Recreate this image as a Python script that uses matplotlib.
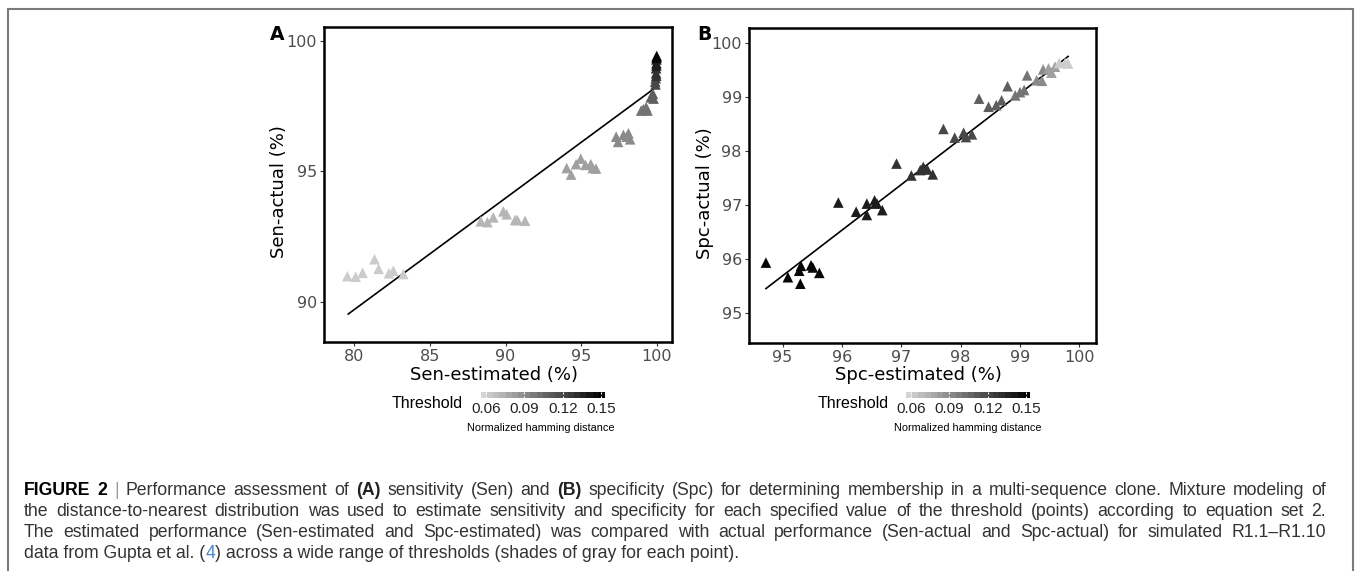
import numpy as np
import matplotlib
matplotlib.use("Agg")
import matplotlib.pyplot as plt
from matplotlib.colors import LinearSegmentedColormap, Normalize
from matplotlib.colorbar import ColorbarBase
from matplotlib.patches import Rectangle

# Panel A: sensitivity (estimated vs actual), threshold per point
sen_est = [79.54, 80.09, 80.55, 81.34, 81.61, 82.29, 82.58, 83.24,
           88.36, 88.80, 89.19, 89.85, 90.07, 90.63, 90.78, 91.29,
           94.04, 94.33, 94.66, 94.97, 95.28, 95.63, 95.76, 95.98,
           97.31, 97.44, 97.79, 98.01, 98.12, 98.23,
           98.96, 99.11, 99.29, 99.38,
           99.60, 99.74, 99.78,
           99.89, 99.93, 99.91,
           99.95, 99.95, 99.96,
           99.97, 99.97, 99.97,
           99.99, 99.98]
sen_act = [90.98, 90.96, 91.11, 91.63, 91.26, 91.09, 91.19, 91.06,
           93.08, 93.05, 93.23, 93.46, 93.35, 93.13, 93.13, 93.10,
           95.12, 94.87, 95.27, 95.48, 95.24, 95.27, 95.12, 95.10,
           96.32, 96.12, 96.39, 96.32, 96.45, 96.22,
           97.32, 97.37, 97.45, 97.32,
           97.83, 97.96, 97.78,
           98.43, 98.56, 98.32,
           98.75, 98.94, 98.66,
           99.13, 99.28, 99.05,
           99.41, 99.35]
sen_thr = [0.06] * 8 + [0.07] * 8 + [0.08] * 8 + [0.09] * 6 + [0.10] * 4 + \
          [0.11] * 3 + [0.12] * 3 + [0.13] * 3 + [0.14] * 3 + [0.15] * 2
sen_line_x = [79.6, 100.0]
sen_line_y = [89.53, 98.24]

# Panel B: specificity
spc_est = [94.72, 95.09, 95.28, 95.30, 95.31, 95.48, 95.51, 95.62,
           95.94, 96.24, 96.42, 96.42, 96.55, 96.59, 96.68,
           96.92, 97.17, 97.32, 97.37, 97.44, 97.53,
           97.71, 97.90, 98.05, 98.09, 98.19,
           98.31, 98.47, 98.60, 98.69, 98.79,
           98.92, 99.00, 99.07, 99.12,
           99.28, 99.37, 99.39,
           99.48, 99.53, 99.59,
           99.66, 99.76, 99.81]
spc_act = [95.94, 95.67, 95.79, 95.55, 95.88, 95.89, 95.85, 95.75,
           97.05, 96.88, 97.03, 96.82, 97.09, 97.03, 96.91,
           97.77, 97.55, 97.65, 97.71, 97.66, 97.57,
           98.41, 98.25, 98.34, 98.26, 98.31,
           98.97, 98.82, 98.85, 98.94, 99.20,
           99.03, 99.09, 99.13, 99.40,
           99.31, 99.30, 99.51,
           99.53, 99.45, 99.56,
           99.63, 99.63, 99.62]
spc_thr = [0.15] * 8 + [0.14] * 7 + [0.13] * 6 + [0.12] * 5 + [0.11] * 5 + \
          [0.10] * 4 + [0.09] * 3 + [0.08] * 3 + [0.06] * 3
spc_line_x = [94.72, 99.81]
spc_line_y = [95.46, 99.75]

cbar_ticks = [0.06, 0.09, 0.12, 0.15]

caption = [
    [("FIGURE 2", "bold", "black"), (" | ", "normal", "#999999"),
     ("Performance assessment of ", "normal", "#333333"), ("(A)", "bold", "#222222"),
     (" sensitivity (Sen) and ", "normal", "#333333"), ("(B)", "bold", "#222222"),
     (" specificity (Spc) for determining membership in a multi-sequence clone. Mixture modeling of",
      "normal", "#333333")],
    [("the distance-to-nearest distribution was used to estimate sensitivity and specificity for each "
      "specified value of the threshold (points) according to equation set 2.", "normal", "#333333")],
    [("The estimated performance (Sen-estimated and Spc-estimated) was compared with actual performance "
      "(Sen-actual and Spc-actual) for simulated R1.1\u2013R1.10", "normal", "#333333")],
    [("data from Gupta et al. (", "normal", "#333333"), ("4", "normal", "#4a86c8"),
     (") across a wide range of thresholds (shades of gray for each point).", "normal", "#333333")],
]

W, H = 1356, 571
fig = plt.figure(figsize=(W / 100, H / 100), dpi=100)

cmap = LinearSegmentedColormap.from_list("thr", ["#d4d4d4", "#000000"])
norm = Normalize(vmin=0.056, vmax=0.153)


def fx(px):
    return px / W


def fy(py):
    return 1 - py / H


def panel(rect, xs, ys, thr, lx, ly, xlim, ylim, xticks, yticks):
    ax = fig.add_axes(rect)
    ax.plot(lx, ly, color="black", lw=1.2, zorder=2)
    ax.scatter(xs, ys, c=thr, cmap=cmap, norm=norm, marker="^", s=58,
               linewidths=0, zorder=3)
    ax.set_xlim(*xlim)
    ax.set_ylim(*ylim)
    ax.set_xticks(xticks)
    ax.set_yticks(yticks)
    for sp in ax.spines.values():
        sp.set_linewidth(1.8)
        sp.set_color("black")
    ax.tick_params(direction="out", length=3, width=0.8, color="#333333",
                   labelcolor="#4d4d4d", labelsize=11.5, pad=2)
    return ax


panel([fx(324), fy(342), fx(672) - fx(324), fy(27) - fy(342)],
      sen_est, sen_act, sen_thr, sen_line_x, sen_line_y,
      (78.0, 101.0), (88.46, 100.52), [80, 85, 90, 95, 100], [90, 95, 100])
panel([fx(748.7), fy(342.7), fx(1096) - fx(748.7), fy(28.3) - fy(342.7)],
      spc_est, spc_act, spc_thr, spc_line_x, spc_line_y,
      (94.43, 100.28), (94.46, 100.27), [95, 96, 97, 98, 99, 100], [95, 96, 97, 98, 99, 100])

# axis titles and panel letters
fig.text(fx(494), fy(375), "Sen-estimated (%)", ha="center", va="center", fontsize=13)
fig.text(fx(918), fy(375), "Spc-estimated (%)", ha="center", va="center", fontsize=13)
fig.text(fx(279), fy(192), "Sen-actual (%)", ha="center", va="center", rotation=90, fontsize=13)
fig.text(fx(705), fy(193), "Spc-actual (%)", ha="center", va="center", rotation=90, fontsize=13)
fig.text(fx(277), fy(35), "A", ha="center", va="center", fontsize=13.5, fontweight="bold")
fig.text(fx(704), fy(35), "B", ha="center", va="center", fontsize=13.5, fontweight="bold")

# threshold colour bars
lab_font = "Liberation Sans"
for left, right, tx, nx in [(480.7, 605, 392, 541), (906, 1030, 818, 968)]:
    cax = fig.add_axes([fx(left), fy(398), fx(right) - fx(left), fy(392) - fy(398)])
    cb = ColorbarBase(cax, cmap=cmap.resampled(20), norm=norm, orientation="horizontal",
                      ticks=cbar_ticks)
    cb.outline.set_visible(False)
    cax.xaxis.set_ticks_position("both")
    cax.tick_params(axis="x", direction="in", length=1.5, width=0.8, color="white",
                    labelcolor="#222222", pad=3, labeltop=False)
    cax.set_xticklabels([f"{t:.2f}" for t in cbar_ticks], fontsize=11, family=lab_font)
    fig.text(fx(tx), fy(403), "Threshold", ha="left", va="center", fontsize=11.5,
             family=lab_font)
    fig.text(fx(nx), fy(428), "Normalized hamming distance", ha="center", va="center",
             fontsize=7.8, family=lab_font)

# caption: first three lines justified, last line left aligned
fig.canvas.draw()
rend = fig.canvas.get_renderer()
cap_left, cap_right = fx(24), fx(1326)
for i, line in enumerate(caption):
    y = fy(495 + 21 * i)
    kw = dict(fontsize=12.7, family="Liberation Sans", va="baseline", ha="left")
    if i < len(caption) - 1:
        words = [(w, wt, c) for txt, wt, c in line for w in txt.split()]
        texts, widths = [], []
        for w, wt, c in words:
            t = fig.text(cap_left, y, w, fontweight=wt, color=c, **kw)
            texts.append(t)
            widths.append(t.get_window_extent(renderer=rend).width / fig.bbox.width)
        gap = (cap_right - cap_left - sum(widths)) / (len(words) - 1)
        x = cap_left
        for t, w in zip(texts, widths):
            t.set_x(x)
            x += w + gap
    else:
        x = cap_left
        for txt, wt, c in line:
            t = fig.text(x, y, txt, fontweight=wt, color=c, **kw)
            x += t.get_window_extent(renderer=rend).width / fig.bbox.width

# outer frame
fig.patches.append(Rectangle((fx(8), -0.1), fx(1353) - fx(8), fy(9) + 0.1,
                             transform=fig.transFigure, fill=False,
                             edgecolor="#7a7a7a", lw=1.5))

fig.savefig("out.png", dpi=100)
